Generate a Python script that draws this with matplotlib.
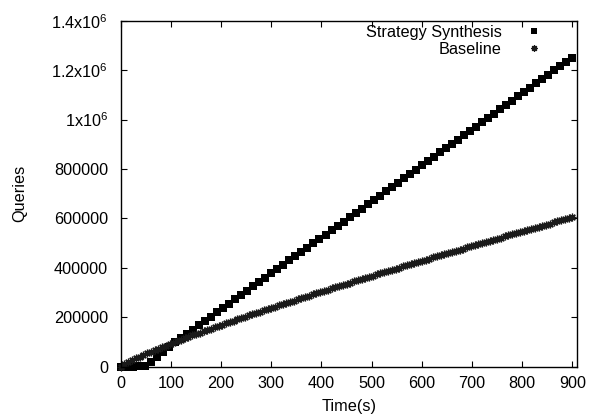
import matplotlib
matplotlib.use('Agg')
import matplotlib.pyplot as plt
import matplotlib.ticker as mtick

plt.rcParams['font.family'] = ['Liberation Sans', 'DejaVu Sans']
plt.rcParams['mathtext.fontset'] = 'custom'
plt.rcParams['mathtext.rm'] = 'Liberation Sans'
plt.rcParams['mathtext.it'] = 'Liberation Sans'


# DATA

# Strategy Synthesis: one sample every 12 s, queries in thousands
ss_time = [0, 12, 24, 36, 48, 60, 72, 84, 96, 108,
           120, 132, 144, 156, 168, 180, 192, 204, 216, 228,
           240, 252, 264, 276, 288, 300, 312, 324, 336, 348,
           360, 372, 384, 396, 408, 420, 432, 444, 456, 468,
           480, 492, 504, 516, 528, 540, 552, 564, 576, 588,
           600, 612, 624, 636, 648, 660, 672, 684, 696, 708,
           720, 732, 744, 756, 768, 780, 792, 804, 816, 828,
           840, 852, 864, 876, 888, 900]
ss_kq = [0, 0, 0.5, 1, 3, 18, 40, 60, 81, 98,
         115.5, 133.0, 150.4, 167.9, 185.4, 202.8, 220.3, 237.8, 255.2, 272.7,
         290.2, 307.7, 325.1, 342.6, 360.1, 377.5, 395.0, 412.5, 429.9, 447.4,
         464.9, 482.3, 499.8, 517.3, 534.8, 552.2, 569.7, 587.2, 604.6, 622.1,
         639.6, 657.0, 674.5, 692.0, 709.4, 726.9, 744.4, 761.9, 779.3, 796.8,
         814.3, 831.7, 849.2, 866.7, 884.1, 901.6, 919.1, 936.5, 954.0, 971.5,
         989.0, 1006.4, 1023.9, 1041.4, 1058.8, 1076.3, 1093.8, 1111.2, 1128.7, 1146.2,
         1163.6, 1181.1, 1198.6, 1216.0, 1233.5, 1251.0]

# Baseline: one sample every 7.5 s, queries in thousands
bl_time = [0, 7.5, 15, 22.5, 30, 37.5, 45, 52.5, 60, 67.5,
           75, 82.5, 90, 97.5, 105, 112.5, 120, 127.5, 135, 142.5,
           150, 157.5, 165, 172.5, 180, 187.5, 195, 202.5, 210, 217.5,
           225, 232.5, 240, 247.5, 255, 262.5, 270, 277.5, 285, 292.5,
           300, 307.5, 315, 322.5, 330, 337.5, 345, 352.5, 360, 367.5,
           375, 382.5, 390, 397.5, 405, 412.5, 420, 427.5, 435, 442.5,
           450, 457.5, 465, 472.5, 480, 487.5, 495, 502.5, 510, 517.5,
           525, 532.5, 540, 547.5, 555, 562.5, 570, 577.5, 585, 592.5,
           600, 607.5, 615, 622.5, 630, 637.5, 645, 652.5, 660, 667.5,
           675, 682.5, 690, 697.5, 705, 712.5, 720, 727.5, 735, 742.5,
           750, 757.5, 765, 772.5, 780, 787.5, 795, 802.5, 810, 817.5,
           825, 832.5, 840, 847.5, 855, 862.5, 870, 877.5, 885, 892.5,
           900]
bl_kq = [0, 10.3, 18.6, 26.3, 33.6, 40.6, 47.4, 54.0, 60.5, 66.9,
         73.2, 79.4, 85.5, 91.5, 97.4, 103.3, 109.1, 114.9, 120.6, 126.3,
         131.9, 137.4, 142.9, 148.4, 153.9, 159.4, 164.8, 170.1, 175.5, 180.9,
         186.2, 191.5, 196.7, 202.0, 207.2, 212.4, 217.5, 222.6, 227.7, 232.7,
         237.8, 242.8, 247.8, 252.8, 257.8, 262.9, 267.8, 272.7, 277.6, 282.6,
         287.5, 292.4, 297.2, 302.1, 306.9, 311.8, 316.6, 321.3, 326.1, 330.8,
         335.6, 340.3, 345.0, 349.8, 354.5, 359.2, 363.9, 368.5, 373.2, 377.9,
         382.5, 387.1, 391.8, 396.4, 401.0, 405.6, 410.2, 414.8, 419.4, 424.0,
         428.6, 433.1, 437.7, 442.2, 446.7, 451.3, 455.7, 460.2, 464.7, 469.2,
         473.7, 478.1, 482.6, 487.0, 491.5, 495.9, 500.3, 504.8, 509.2, 513.6,
         518.1, 522.5, 526.9, 531.2, 535.6, 540.0, 544.4, 548.7, 553.1, 557.5,
         561.8, 566.1, 570.5, 574.8, 579.2, 583.5, 587.8, 592.1, 596.4, 600.7,
         605.0]

x_ticks = [0, 100, 200, 300, 400, 500, 600, 700, 800, 900]
y_ticks = [0, 200000, 400000, 600000, 800000, 1000000, 1200000, 1400000]
y_tick_labels = ['0', '200000', '400000', '600000', '800000',
                 '1x10$^6$', '1.2x10$^6$', '1.4x10$^6$']

ss_queries = [v * 1000 for v in ss_kq]
bl_queries = [v * 1000 for v in bl_kq]

FS = 11.7


# PLOT

fig = plt.figure(figsize=(5.97, 4.17), dpi=100)
ax = fig.add_axes([0.2022, 0.1206, 0.7651, 0.8298])

ax.plot(ss_time, ss_queries, linestyle='none', marker='s', markersize=5.5,
        markeredgewidth=0, color='black', clip_on=False, label='Strategy Synthesis')
ax.plot(bl_time, bl_queries, linestyle='none', marker=(8, 2, 0), markersize=5.5,
        markeredgewidth=0.9, color='#1a1a1a', clip_on=False, label='Baseline')

ax.set_xlim(0, 910)
ax.set_ylim(0, 1400000)
ax.xaxis.set_major_locator(mtick.FixedLocator(x_ticks))
ax.set_yticks(y_ticks)
ax.set_yticklabels(y_tick_labels)

ax.tick_params(direction='in', length=4.5, width=0.8, labelsize=FS,
               top=True, right=True)
ax.tick_params(axis='y', pad=9)
ax.tick_params(axis='x', pad=6.5)
for sp in ax.spines.values():
    sp.set_linewidth(1.0)

ax.set_xlabel('Time(s)', fontsize=FS)
ax.set_ylabel('Queries', fontsize=FS)
ax.xaxis.set_label_coords(0.5, -0.094)
ax.yaxis.set_label_coords(-0.205, 0.5)

ax.legend(loc='upper right', bbox_to_anchor=(0.9225, 0.9876), frameon=False,
          markerfirst=False, fontsize=FS, handlelength=1.0, handletextpad=1.47,
          borderaxespad=0, borderpad=0, labelspacing=0.12, numpoints=1,
          markerscale=0.85)

plt.savefig('out.png', dpi=100)
